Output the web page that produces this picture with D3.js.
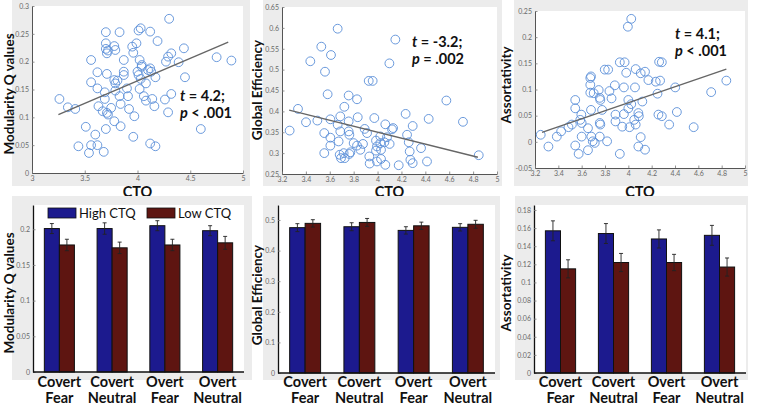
<!DOCTYPE html>
<html><head><meta charset="utf-8">
<script src="https://cdn.jsdelivr.net/npm/d3@7"></script>
<style>body{margin:0;background:#fff}svg{display:block}</style>
</head><body><svg id="c" width="758" height="405"></svg>
<script>
// ---------- DATA ----------
const ctqTicksWide = [3, 3.5, 4, 4.5, 5];
const ctqTicksFine = [3.2, 3.4, 3.6, 3.8, 4, 4.2, 4.4, 4.6, 4.8, 5];
const modScatterTicks = [0, 0.05, 0.1, 0.15, 0.2, 0.25, 0.3];
const geScatterTicks = [0.25, 0.3, 0.35, 0.4, 0.45, 0.5, 0.55, 0.6, 0.65];
const asScatterTicks = [-0.05, 0, 0.05, 0.1, 0.15, 0.2, 0.25];

const modularityPoints = [
[3.26,0.133],[3.34,0.118],[3.41,0.115],[3.51,0.083],[3.44,0.048],[3.54,0.036],[3.56,0.050],[3.62,0.050],[3.60,0.069],[3.68,0.038],
[3.56,0.203],[3.56,0.163],[3.62,0.181],[3.62,0.152],[3.63,0.120],[3.67,0.111],[3.70,0.253],[3.70,0.233],[3.70,0.223],[3.71,0.215],
[3.72,0.220],[3.71,0.178],[3.69,0.145],[3.69,0.133],[3.71,0.108],[3.72,0.105],[3.70,0.079],[3.75,0.117],[3.78,0.093],[3.78,0.228],
[3.79,0.221],[3.83,0.253],[3.78,0.167],[3.79,0.161],[3.81,0.166],[3.79,0.148],[3.83,0.138],[3.84,0.124],[3.84,0.084],[3.87,0.203],
[3.87,0.182],[3.87,0.176],[3.90,0.152],[3.91,0.138],[3.92,0.115],[3.95,0.227],[3.96,0.216],[3.99,0.233],[3.97,0.102],[3.96,0.065],
[4.01,0.256],[4.03,0.260],[4.12,0.254],[4.00,0.182],[4.01,0.176],[4.02,0.203],[4.04,0.194],[4.04,0.191],[4.03,0.169],[4.02,0.151],
[4.06,0.138],[4.08,0.130],[4.08,0.161],[4.10,0.185],[4.12,0.188],[4.13,0.182],[4.14,0.133],[4.16,0.120],[4.17,0.172],[4.12,0.053],
[4.17,0.048],[4.19,0.237],[4.30,0.277],[4.27,0.200],[4.29,0.209],[4.32,0.215],[4.26,0.132],[4.29,0.109],[4.32,0.142],[4.39,0.199],
[4.44,0.224],[4.45,0.172],[4.60,0.079],[4.75,0.208],[4.89,0.202]
];
const globalEfficiencyPoints = [
[3.264,0.354],[3.334,0.406],[3.401,0.374],[3.437,0.520],[3.496,0.378],[3.529,0.555],[3.554,0.348],[3.554,0.300],[3.560,0.495],[3.582,0.441],
[3.610,0.535],[3.605,0.381],[3.605,0.337],[3.605,0.318],[3.666,0.598],[3.666,0.368],[3.674,0.328],[3.688,0.388],[3.688,0.352],[3.683,0.296],
[3.694,0.288],[3.722,0.411],[3.716,0.300],[3.725,0.288],[3.758,0.438],[3.758,0.376],[3.758,0.352],[3.764,0.344],[3.764,0.298],[3.772,0.302],
[3.828,0.429],[3.834,0.386],[3.800,0.324],[3.828,0.318],[3.856,0.308],[3.878,0.322],[3.892,0.358],[3.912,0.348],[3.926,0.473],[3.959,0.473],
[3.931,0.292],[3.934,0.275],[3.973,0.384],[3.987,0.330],[3.995,0.316],[3.987,0.306],[3.995,0.280],[4.023,0.340],[4.023,0.324],[4.029,0.308],
[4.029,0.286],[4.057,0.326],[4.065,0.272],[4.065,0.369],[4.079,0.338],[4.099,0.515],[4.101,0.322],[4.121,0.357],[4.130,0.360],[4.149,0.572],
[4.177,0.271],[4.235,0.394],[4.247,0.344],[4.261,0.326],[4.269,0.304],[4.275,0.284],[4.294,0.276],[4.294,0.365],[4.364,0.312],[4.414,0.280],
[4.428,0.382],[4.576,0.426],[4.715,0.375],[4.847,0.295]
];
const assortativityPoints = [
[3.249,0.0135],[3.315,-0.009],[3.387,0.010],[3.424,0.020],[3.487,0.028],[3.516,0.033],[3.545,0.080],[3.545,0.064],[3.545,-0.007],[3.574,-0.023],
[3.588,0.042],[3.597,0.052],[3.600,0.036],[3.600,0.010],[3.654,0.026],[3.654,-0.016],[3.674,0.122],[3.680,0.125],[3.674,0.109],[3.674,0.094],
[3.680,0.061],[3.683,0.010],[3.695,0.001],[3.712,-0.002],[3.703,0.093],[3.746,0.099],[3.755,0.084],[3.760,0.080],[3.775,0.061],[3.755,0.036],
[3.760,0.033],[3.755,0.010],[3.798,0.138],[3.827,0.138],[3.818,0.001],[3.838,0.097],[3.856,0.083],[3.884,0.108],[3.890,0.052],[3.890,0.039],
[3.927,0.152],[3.927,-0.023],[3.948,0.029],[3.962,0.053],[3.968,0.152],[3.962,0.104],[3.982,0.132],[3.996,0.220],[4.025,0.235],[4.000,0.080],
[4.010,0.028],[4.000,0.064],[4.025,0.072],[4.050,0.042],[4.063,0.139],[4.057,0.104],[4.063,0.033],[4.086,0.055],[4.090,0.049],[4.086,-0.009],
[4.106,0.009],[4.106,0.131],[4.120,0.077],[4.143,0.134],[4.143,-0.015],[4.172,0.118],[4.235,0.115],[4.250,0.092],[4.264,0.153],[4.287,0.152],
[4.272,0.117],[4.258,0.052],[4.287,0.049],[4.350,0.033],[4.402,0.104],[4.416,0.057],[4.560,0.028],[4.710,0.095],[4.840,0.117]
];
const modularityFit = [[3.25,0.105],[4.86,0.235]];
const globalEfficiencyFit = [[3.26,0.403],[4.84,0.290]];
const assortativityFit = [[3.26,0.018],[4.84,0.139]];
const modularityStats = ["4.2", "<", ".001"];
const globalEfficiencyStats = ["-3.2", "=", ".002"];
const assortativityStats = ["4.1", "<", ".001"];

const conditions = [["Covert","Fear"],["Covert","Neutral"],["Overt","Fear"],["Overt","Neutral"]];
const groupNames = ["High CTQ", "Low CTQ"];
const modBarTicks = [0, 0.05, 0.1, 0.15, 0.2];
const geBarTicks = [0, 0.1, 0.2, 0.3, 0.4, 0.5];
const asBarTicks = [0, 0.02, 0.04, 0.06, 0.08, 0.1, 0.12, 0.14, 0.16, 0.18];
const modHigh = [0.201, 0.201, 0.205, 0.198];
const modLow  = [0.178, 0.174, 0.178, 0.181];
const modHighErr = [0.007, 0.008, 0.007, 0.007];
const modLowErr  = [0.008, 0.008, 0.008, 0.009];
const geHigh = [0.475, 0.478, 0.466, 0.476];
const geLow  = [0.489, 0.492, 0.481, 0.486];
const geHighErr = [0.013, 0.013, 0.012, 0.012];
const geLowErr  = [0.012, 0.013, 0.012, 0.013];
const asHigh = [0.157, 0.154, 0.148, 0.152];
const asLow  = [0.115, 0.122, 0.122, 0.117];
const asHighErr = [0.011, 0.011, 0.010, 0.011];
const asLowErr  = [0.010, 0.010, 0.009, 0.010];

// ---------- STYLE ----------
const FONT = "Lato, 'Open Sans', sans-serif";
const GREY = "#ececec";
const BLUE = "#1c1a8e";
const RED = "#5e1511";
const PT = "#5b8fd8";
const fmt = d => String(+d.toFixed(3));

const svg = d3.select("#c");

function drawAxes(g, x, y, xTicks, yTicks, color, width, showX) {
  const ay = g.append("g").attr("transform", `translate(${x.range()[0]},0)`)
    .call(d3.axisLeft(y).tickValues(yTicks).tickFormat(fmt).tickSizeInner(-2.5).tickSizeOuter(0).tickPadding(3));
  const axes = [ay];
  if (showX) {
    const ax = g.append("g").attr("transform", `translate(0,${y.range()[0]})`)
      .call(d3.axisBottom(x).tickValues(xTicks).tickFormat(fmt).tickSizeInner(-2.5).tickSizeOuter(0).tickPadding(3));
    axes.push(ax);
  }
  axes.forEach(a => {
    a.select(".domain").attr("stroke", color).attr("stroke-width", width);
    a.selectAll(".tick line").attr("stroke", "#777").attr("stroke-width", 0.8);
    a.selectAll("text").attr("font-size", 7).attr("fill", "#6a6a6a").attr("font-family", FONT);
  });
}

function yLabel(text, bx, cy) {
  svg.append("text").attr("transform", `translate(${bx},${cy}) rotate(-90)`)
    .attr("text-anchor", "middle").attr("font-family", FONT).attr("font-weight", 700)
    .attr("font-size", 13.5).attr("fill", "#111").text(text);
}

function scatterPanel(c) {
  svg.append("rect").attr("x", c.box[0]).attr("y", c.box[1]).attr("width", c.box[2]).attr("height", c.box[3]).attr("fill", GREY);
  const x = d3.scaleLinear().domain(c.xDomain).range([c.px[0], c.px[1]]);
  const y = d3.scaleLinear().domain(c.yDomain).range([c.py[0], c.py[1]]);
  svg.append("rect").attr("x", c.px[0]).attr("y", c.py[1]).attr("width", c.px[1]-c.px[0]).attr("height", c.py[0]-c.py[1]).attr("fill", "#fff");
  const g = svg.append("g");
  drawAxes(g, x, y, c.xTicks, c.yTicks, "#555", 1, true);
  g.append("g").selectAll("circle").data(c.points).join("circle")
    .attr("cx", d => x(d[0])).attr("cy", d => y(d[1])).attr("r", 4.4)
    .attr("fill", "none").attr("stroke", PT).attr("stroke-width", 1).attr("stroke-opacity", 0.9);
  g.append("line").attr("x1", x(c.fit[0][0])).attr("y1", y(c.fit[0][1]))
    .attr("x2", x(c.fit[1][0])).attr("y2", y(c.fit[1][1]))
    .attr("stroke", "#666").attr("stroke-width", 1.4);
  const st = svg.append("g").attr("font-family", FONT).attr("font-weight", 700).attr("font-size", 14.5).attr("fill", "#111");
  const t1 = st.append("text").attr("x", c.statPos[0]).attr("y", c.statPos[1]);
  t1.append("tspan").attr("font-style", "italic").text("t");
  t1.append("tspan").text(` = ${c.stats[0]};`);
  const t2 = st.append("text").attr("x", c.statPos[0]).attr("y", c.statPos[1] + 16.5);
  t2.append("tspan").attr("font-style", "italic").text("p");
  t2.append("tspan").text(` ${c.stats[1]} ${c.stats[2]}`);
  svg.append("text").attr("x", (c.px[0]+c.px[1])/2).attr("y", 197).attr("text-anchor", "middle")
    .attr("font-family", FONT).attr("font-weight", 700).attr("font-size", 14.5).attr("fill", "#111").text("CTQ");
  yLabel(c.ylabel, c.labelPos[0], c.labelPos[1]);
}

function barPanel(c) {
  svg.append("rect").attr("x", c.box[0]).attr("y", c.box[1]).attr("width", c.box[2]).attr("height", c.box[3]).attr("fill", GREY);
  svg.append("rect").attr("x", c.px[0]).attr("y", c.py[1]).attr("width", c.px[1]-c.px[0]).attr("height", c.py[0]-c.py[1]).attr("fill", "#fff");
  const x0 = d3.scaleBand().domain(d3.range(conditions.length)).range([c.px[0], c.px[1]]).paddingInner(0.43).paddingOuter(0.215);
  const x1 = d3.scaleBand().domain([0, 1]).range([0, x0.bandwidth()]);
  const y = d3.scaleLinear().domain(c.yDomain).range([c.py[0], c.py[1]]);
  const g = svg.append("g");
  const series = [c.high, c.low];
  const errs = [c.highErr, c.lowErr];
  const rows = [];
  series.forEach((s, si) => s.forEach((v, i) => rows.push({i, si, v, e: errs[si][i]})));
  g.selectAll("rect.bar").data(rows).join("rect").attr("class", "bar")
    .attr("x", d => x0(d.i) + x1(d.si)).attr("width", x1.bandwidth())
    .attr("y", d => y(d.v)).attr("height", d => y(0) - y(d.v))
    .attr("fill", d => d.si === 0 ? BLUE : RED).attr("stroke", "#111").attr("stroke-width", 1);
  const eb = g.selectAll("g.err").data(rows).join("g").attr("class", "err")
    .attr("stroke", "#222").attr("stroke-width", 0.9);
  eb.append("line").attr("x1", d => x0(d.i) + x1(d.si) + x1.bandwidth()/2).attr("x2", d => x0(d.i) + x1(d.si) + x1.bandwidth()/2)
    .attr("y1", d => y(d.v + d.e)).attr("y2", d => y(d.v - d.e));
  [1, -1].forEach(sg => {
    eb.append("line").attr("x1", d => x0(d.i) + x1(d.si) + x1.bandwidth()/2 - 2).attr("x2", d => x0(d.i) + x1(d.si) + x1.bandwidth()/2 + 2)
      .attr("y1", d => y(d.v + sg*d.e)).attr("y2", d => y(d.v + sg*d.e));
  });
  const xs = d3.scaleLinear().range([c.px[0], c.px[1]]);
  drawAxes(g, xs, y, [], c.yTicks, "#111", 1.3, false);
  g.append("line").attr("x1", c.px[0]).attr("x2", c.px[1]).attr("y1", c.py[0]).attr("y2", c.py[0]).attr("stroke", "#111").attr("stroke-width", 1.3);
  const lab = svg.append("g").attr("font-family", FONT).attr("font-weight", 700).attr("font-size", 14.5).attr("fill", "#111").attr("text-anchor", "middle");
  conditions.forEach((cd, i) => {
    const cx = x0(i) + x0.bandwidth()/2;
    lab.append("text").attr("x", cx).attr("y", 387).text(cd[0]);
    lab.append("text").attr("x", cx).attr("y", 402.5).text(cd[1]);
  });
  yLabel(c.ylabel, c.labelPos[0], c.labelPos[1]);
  if (c.legend) {
    const lg = svg.append("g").attr("font-family", FONT).attr("font-size", 13).attr("fill", "#111");
    const lx = [48, 147];
    groupNames.forEach((n, k) => {
      lg.append("rect").attr("x", lx[k]).attr("y", 208).attr("width", 28).attr("height", 10)
        .attr("fill", k === 0 ? BLUE : RED).attr("stroke", "#111").attr("stroke-width", 0.8);
      lg.append("text").attr("x", lx[k] + 31).attr("y", 218).text(n);
    });
  }
}

scatterPanel({box:[12,0,238,186], px:[32,243], py:[173,6], xDomain:[3,5], yDomain:[0,0.3],
  xTicks:ctqTicksWide, yTicks:modScatterTicks, points:modularityPoints, fit:modularityFit,
  stats:modularityStats, statPos:[180,101], ylabel:"Modularity Q values", labelPos:[14,94]});
scatterPanel({box:[263,0,239,186], px:[282,497], py:[174,7], xDomain:[3.2,5], yDomain:[0.25,0.65],
  xTicks:ctqTicksFine, yTicks:geScatterTicks, points:globalEfficiencyPoints, fit:globalEfficiencyFit,
  stats:globalEfficiencyStats, statPos:[412,47], ylabel:"Global Efficiency", labelPos:[262,90]});
scatterPanel({box:[514,0,234,186], px:[535,745], py:[168,11], xDomain:[3.2,5], yDomain:[-0.05,0.25],
  xTicks:ctqTicksFine, yTicks:asScatterTicks, points:assortativityPoints, fit:assortativityFit,
  stats:assortativityStats, statPos:[675,39], ylabel:"Assortativity", labelPos:[511,85]});

barPanel({box:[12,196,240,184], px:[33,244], py:[372,205], yDomain:[0,0.234], yTicks:modBarTicks,
  high:modHigh, low:modLow, highErr:modHighErr, lowErr:modLowErr, ylabel:"Modularity Q values", labelPos:[14,293], legend:true});
barPanel({box:[263,196,237,184], px:[278,495], py:[373,205], yDomain:[0,0.549], yTicks:geBarTicks,
  high:geHigh, low:geLow, highErr:geHighErr, lowErr:geLowErr, ylabel:"Global Efficiency", labelPos:[262,295]});
barPanel({box:[515,196,233,184], px:[534,746], py:[373,205], yDomain:[0,0.1855], yTicks:asBarTicks,
  high:asHigh, low:asLow, highErr:asHighErr, lowErr:asLowErr, ylabel:"Assortativity", labelPos:[511,293]});
</script></body></html>
